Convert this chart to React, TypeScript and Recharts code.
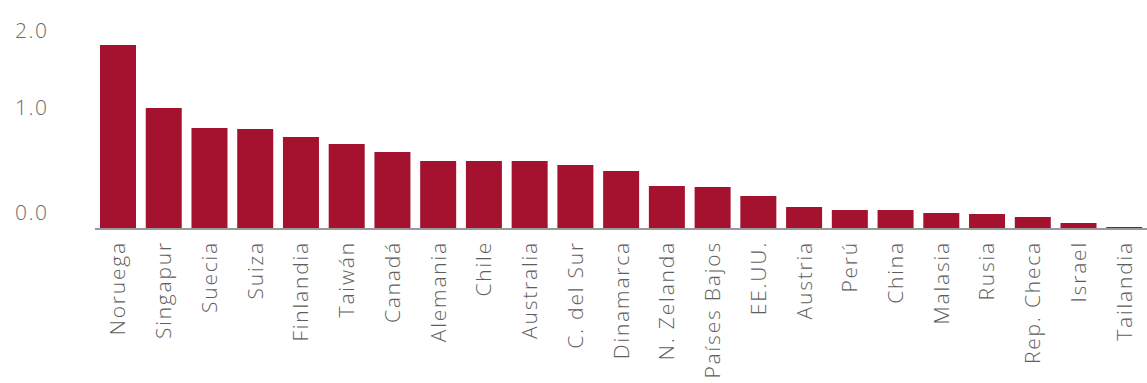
import { Bar, BarChart, XAxis, YAxis } from "recharts"

const countries = [
  "Noruega", "Singapur", "Suecia", "Suiza", "Finlandia", "Taiwán", "Canadá", "Alemania",
  "Chile", "Australia", "C. del Sur", "Dinamarca", "N. Zelanda", "Países Bajos", "EE.UU.",
  "Austria", "Perú", "China", "Malasia", "Rusia", "Rep. Checa", "Israel", "Tailandia",
]

const values = [
  1.84, 1.21, 1.01, 1.0, 0.92, 0.85, 0.77, 0.68, 0.68, 0.68, 0.64, 0.58,
  0.43, 0.42, 0.33, 0.22, 0.19, 0.19, 0.16, 0.15, 0.12, 0.06, 0.02,
]

// where the printed labels sit on the value axis (the source axis is not evenly spaced)
const yTickValues = [0.17, 1.22, 1.99]
const yTickLabels = ["0.0", "1.0", "2.0"]

const data = countries.map((name, i) => ({ name, value: values[i] }))

const FONT = "'Open Sans', sans-serif"

const CountryTick = (props: any) => {
  const { x, y, payload } = props
  return (
    <text
      x={x}
      y={y + 4}
      dy="0.36em"
      transform={`rotate(-90, ${x}, ${y + 4})`}
      textAnchor="end"
      fontFamily={FONT}
      fontSize={21}
      fontWeight={300}
      letterSpacing={1.8}
      fill="#5e5e5e"
    >
      {payload.value}
    </text>
  )
}

const ValueTick = (props: any) => {
  const { y, payload } = props
  const idx = yTickValues.indexOf(payload.value)
  return (
    <text
      x={15}
      y={y}
      dy="0.36em"
      textAnchor="start"
      fontFamily={FONT}
      fontSize={21}
      fontWeight={300}
      letterSpacing={1.5}
      fill="#6a6a6a"
    >
      {yTickLabels[idx]}
    </text>
  )
}

export default function App() {
  return (
    <div style={{ position: "absolute", left: 0, top: 0, width: 1147, height: 383, background: "#fff" }}>
      <BarChart
        width={1147}
        height={383}
        data={data}
        margin={{ top: 29, right: 0, left: 0, bottom: 0 }}
      >
        <XAxis
          dataKey="name"
          interval={0}
          height={154}
          tickLine={false}
          axisLine={{ stroke: "#9a9a9a", strokeWidth: 2 }}
          tick={<CountryTick />}
        />
        <YAxis
          width={95}
          domain={[0, 2]}
          ticks={yTickValues}
          axisLine={false}
          tickLine={false}
          tick={<ValueTick />}
        />
        <Bar dataKey="value" fill="#a5122f" barSize={36} isAnimationActive={false} />
      </BarChart>
    </div>
  )
}
